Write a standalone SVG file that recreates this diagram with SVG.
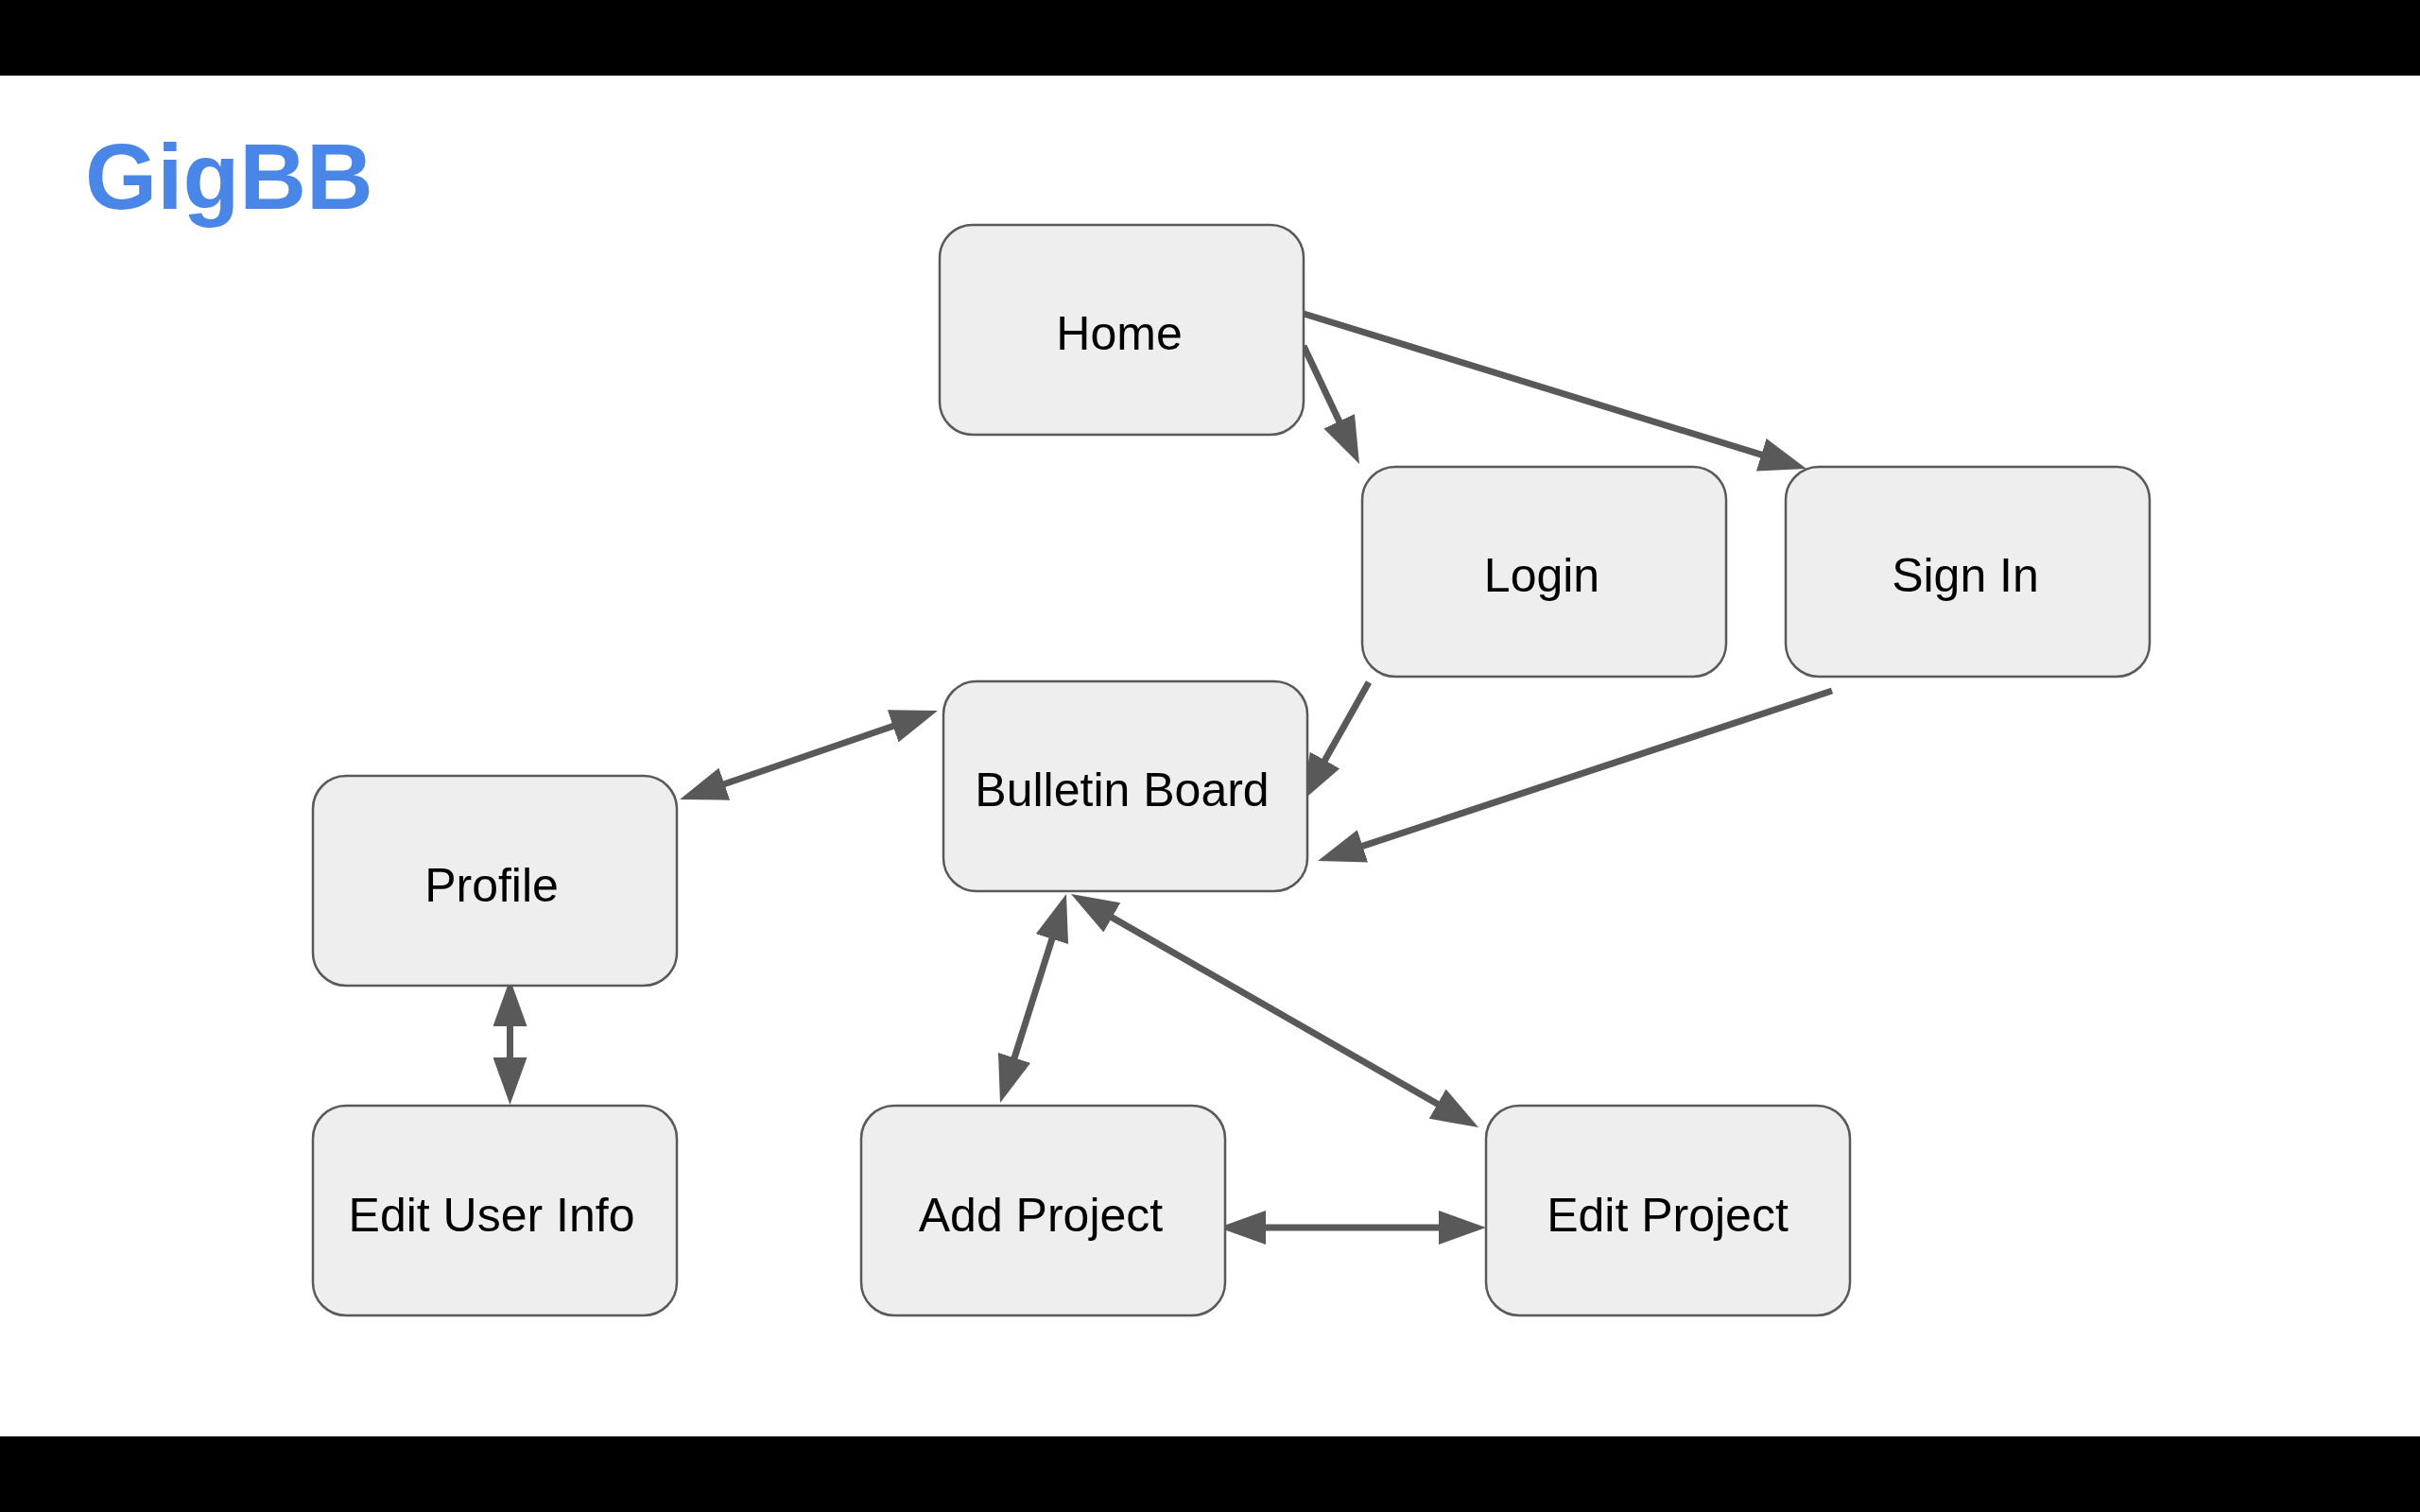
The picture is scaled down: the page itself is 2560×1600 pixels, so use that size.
<svg xmlns="http://www.w3.org/2000/svg" width="2560" height="1600" viewBox="0 0 2560 1600">
  <style>
    .node rect { fill: #eeeeee; stroke: #595959; stroke-width: 2.5; }
    .node text { font-family: "Liberation Sans", Arial, sans-serif; font-size: 50px; fill: #000000; text-anchor: middle; }
    .edge { stroke: #595959; stroke-width: 7; fill: none; marker-end: url(#arrow); }
    .edge.both { marker-start: url(#arrow); }
    .title { font-family: "Liberation Sans", Arial, sans-serif; font-weight: bold; font-size: 98px; fill: #4a86e8; }
  </style>
  <defs>
    <marker id="arrow" markerUnits="userSpaceOnUse" markerWidth="50" markerHeight="36" refX="5" refY="18" orient="auto-start-reverse" viewBox="0 0 50 36">
      <path d="M0,0 L50,18 L0,36 Z" fill="#595959"/>
    </marker>
  </defs>

  <!-- letterbox bars -->
  <rect x="0" y="0" width="2560" height="80" fill="#000000"/>
  <rect x="0" y="80" width="2560" height="1440" fill="#ffffff"/>
  <rect x="0" y="1520" width="2560" height="80" fill="#000000"/>

  <text class="title" x="90" y="221">GigBB</text>

  <g id="connectors">
    <line class="edge" x1="1376" y1="331" x2="1868" y2="482.7"/>
    <line class="edge" x1="1379" y1="366" x2="1418.8" y2="450.3"/>
    <line class="edge" x1="1448" y1="722" x2="1399.1" y2="808.8"/>
    <line class="edge" x1="1938" y1="731" x2="1436.7" y2="896.9"/>
    <line class="edge both" x1="761.6" y1="831.3" x2="949.4" y2="766.7"/>
    <line class="edge both" x1="539.5" y1="1081" x2="539.5" y2="1124"/>
    <line class="edge both" x1="1114.4" y1="988.9" x2="1071.6" y2="1124.1"/>
    <line class="edge both" x1="1172" y1="968.4" x2="1525" y2="1170.6"/>
    <line class="edge both" x1="1334" y1="1299" x2="1527" y2="1299"/>
  </g>

  <g id="home" class="node">
    <rect x="994" y="238" width="385" height="222" rx="35"/>
    <text x="1184" y="370">Home</text>
  </g>
  <g id="login" class="node">
    <rect x="1441" y="494" width="385" height="222" rx="35"/>
    <text x="1631" y="626">Login</text>
  </g>
  <g id="sign-in" class="node">
    <rect x="1889" y="494" width="385" height="222" rx="35"/>
    <text x="2079" y="626">Sign In</text>
  </g>
  <g id="bulletin-board" class="node">
    <rect x="998" y="721" width="385" height="222" rx="35"/>
    <text x="1187" y="853">Bulletin Board</text>
  </g>
  <g id="profile" class="node">
    <rect x="331" y="821" width="385" height="222" rx="35"/>
    <text x="520" y="954">Profile</text>
  </g>
  <g id="edit-user-info" class="node">
    <rect x="331" y="1170" width="385" height="222" rx="35"/>
    <text x="520" y="1303">Edit User Info</text>
  </g>
  <g id="add-project" class="node">
    <rect x="911" y="1170" width="385" height="222" rx="35"/>
    <text x="1101" y="1303">Add Project</text>
  </g>
  <g id="edit-project" class="node">
    <rect x="1572" y="1170" width="385" height="222" rx="35"/>
    <text x="1764" y="1303">Edit Project</text>
  </g>
</svg>
